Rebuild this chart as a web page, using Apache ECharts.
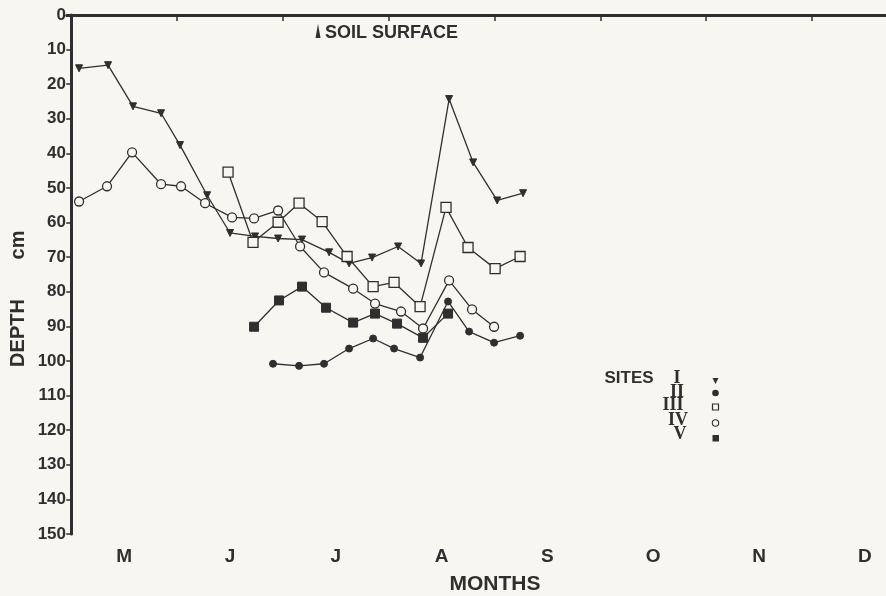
<!DOCTYPE html>
<html>
<head>
<meta charset="utf-8">
<script src="https://cdn.jsdelivr.net/npm/echarts@6/dist/echarts.min.js"></script>
<style>
html,body{margin:0;padding:0;background:#f7f6f1;}
#chart{width:886px;height:596px;}
</style>
</head>
<body>
<div id="chart"></div>
<script>
// x values in months (0 = 1 May), depth in cm
const monthLabels = ['M','J','J','A','S','O','N','D'];
const monthTicks = [1,2,3,4,5,6,7];
const monthLabelPos = [0.5,1.5,2.5,3.5,4.5,5.5,6.5,7.5];
const depthTicks = [0,10,20,30,40,50,60,70,80,90,100,110,120,130,140,150];

const siteI_x = [0.074,0.348,0.584,0.849,1.028,1.284,1.501,1.737,1.955,2.181,2.437,2.626,2.843,3.089,3.306,3.571,3.798,4.025,4.270];
const siteI_d = [15.4,14.5,26.4,28.4,37.6,52.1,63.0,64.0,64.6,64.9,68.6,71.8,70.1,66.9,71.8,24.3,42.6,53.6,51.5];

const siteII_x = [1.907,2.153,2.389,2.626,2.853,3.051,3.297,3.561,3.760,3.996,4.242];
const siteII_d = [100.8,101.4,100.8,96.4,93.5,96.4,99.0,82.8,91.5,94.7,92.7];

const siteIII_x = [1.482,1.718,1.955,2.153,2.371,2.607,2.853,3.051,3.297,3.542,3.750,4.006,4.242];
const siteIII_d = [45.4,65.7,59.9,54.4,59.7,69.8,78.5,77.3,84.3,55.6,67.2,73.3,69.8];

const siteIV_x = [0.074,0.338,0.575,0.849,1.038,1.265,1.520,1.728,1.955,2.163,2.389,2.664,2.871,3.117,3.325,3.571,3.788,3.996];
const siteIV_d = [53.9,49.5,39.7,48.9,49.5,54.4,58.5,58.8,56.5,66.9,74.4,79.1,83.4,85.7,90.6,76.7,85.1,90.1];

const siteV_x = [1.728,1.964,2.181,2.408,2.664,2.871,3.079,3.325,3.561];
const siteV_d = [90.1,82.5,78.5,84.6,88.9,86.3,89.2,93.3,86.3];

const X_MIN = -0.04, X_MAX = 7.70;
const INK = '#2f2f2f';
const BG = '#f7f6f1';
const FONT = '"Liberation Sans", Arial, sans-serif';
const SERIF = '"Liberation Serif", "DejaVu Serif", serif';

function zip(xs, ys){ return xs.map((x,i)=>[x, ys[i]]); }

function mk(name, xs, ys, symbol, size, filled, rotate){
  return {
    name: name, type: 'line', data: zip(xs, ys),
    symbol: symbol, symbolSize: size, symbolRotate: rotate || 0,
    showAllSymbol: true,
    lineStyle: {color: INK, width: 1.3},
    itemStyle: filled ? {color: INK, borderColor: INK, borderWidth: 1}
                      : {color: BG, borderColor: INK, borderWidth: 1.3},
    emphasis: {disabled: true},
    z: filled ? 3 : 4
  };
}

const chart = echarts.init(document.getElementById('chart'), null, {renderer:'canvas'});
chart.setOption({
  backgroundColor: BG,
  animation: false,
  grid: {left: 67, right: 0, top: 15, bottom: 62},
  xAxis: [
    {
      type: 'value', position: 'bottom', min: X_MIN, max: X_MAX,
      axisLine: {show: true, lineStyle: {color: INK, width: 3}},
      axisTick: {show: true, customValues: monthTicks, length: 5, lineStyle: {color: INK, width: 1.5}},
      axisLabel: {
        customValues: monthLabelPos,
        formatter: v => monthLabels[Math.floor(v)],
        color: INK, fontFamily: FONT, fontWeight: 'bold', fontSize: 19, margin: 13
      },
      splitLine: {show: false}
    },
    {
      type: 'value', position: 'top', min: X_MIN, max: X_MAX,
      axisLine: {show: true, lineStyle: {color: INK, width: 3}},
      axisTick: {show: true, inside: true, customValues: monthTicks, length: 6, lineStyle: {color: INK, width: 1.5}},
      axisLabel: {show: false},
      splitLine: {show: false}
    }
  ],
  yAxis: {
    type: 'value', inverse: true, min: 0, max: 150, interval: 10,
    axisLine: {show: true, lineStyle: {color: INK, width: 3}},
    axisTick: {show: true, length: 5, lineStyle: {color: INK, width: 1.5}},
    axisLabel: {color: INK, fontFamily: FONT, fontWeight: 'bold', fontSize: 17, margin: 1,
      formatter: v => depthTicks.indexOf(v) >= 0 ? String(v) : ''},
    splitLine: {show: false}
  },
  series: [
    mk('I', siteI_x, siteI_d, 'triangle', 7, true, 180),
    mk('II', siteII_x, siteII_d, 'circle', 7, true),
    mk('III', siteIII_x, siteIII_d, 'rect', 10, false),
    mk('IV', siteIV_x, siteIV_d, 'circle', 9, false),
    mk('V', siteV_x, siteV_d, 'rect', 9, true)
  ],
  graphic: [
    {type:'polygon', shape:{points:[[315.5,38],[318,24],[320.5,38]]}, style:{fill: INK}},
    {type:'text', x: 325, y: 33, style:{text:'SOIL SURFACE', fill: INK, font: 'bold 18px ' + FONT, textVerticalAlign:'middle'}},
    {type:'text', x: 18, y: 333, rotation: Math.PI/2, style:{text:'DEPTH', fill: INK, font: 'bold 20px ' + FONT, textAlign:'center', textVerticalAlign:'middle'}},
    {type:'text', x: 18, y: 245, rotation: Math.PI/2, style:{text:'cm', fill: INK, font: 'bold 20px ' + FONT, textAlign:'center', textVerticalAlign:'middle'}},
    {type:'text', x: 495, y: 584, style:{text:'MONTHS', fill: INK, font: 'bold 21px ' + FONT, textAlign:'center', textVerticalAlign:'middle'}},
    {type:'text', x: 629, y: 378, style:{text:'SITES', fill: INK, font: 'bold 17px ' + FONT, textAlign:'center', textVerticalAlign:'middle'}},
    {type:'text', x: 677, y: 378, style:{text:'I', fill: INK, font: 'bold 18px ' + SERIF, textAlign:'center', textVerticalAlign:'middle'}},
    {type:'text', x: 677, y: 392, style:{text:'II', fill: INK, font: 'bold 18px ' + SERIF, textAlign:'center', textVerticalAlign:'middle'}},
    {type:'text', x: 673, y: 405, style:{text:'III', fill: INK, font: 'bold 18px ' + SERIF, textAlign:'center', textVerticalAlign:'middle'}},
    {type:'text', x: 678, y: 420, style:{text:'IV', fill: INK, font: 'bold 18px ' + SERIF, textAlign:'center', textVerticalAlign:'middle'}},
    {type:'text', x: 680, y: 434, style:{text:'V', fill: INK, font: 'bold 18px ' + SERIF, textAlign:'center', textVerticalAlign:'middle'}},
    {type:'polygon', shape:{points:[[712.5,378],[718.5,378],[715.5,384]]}, style:{fill: INK}},
    {type:'circle', shape:{cx:715.5, cy:393, r:3.3}, style:{fill: INK}},
    {type:'rect', shape:{x:712.5, y:404, width:6, height:6}, style:{fill: BG, stroke: INK, lineWidth:1.2}},
    {type:'circle', shape:{cx:715.5, cy:423, r:3.2}, style:{fill: BG, stroke: INK, lineWidth:1.1}},
    {type:'rect', shape:{x:712.5, y:435, width:6.5, height:6.5}, style:{fill: INK}}
  ]
});
</script>
</body>
</html>
